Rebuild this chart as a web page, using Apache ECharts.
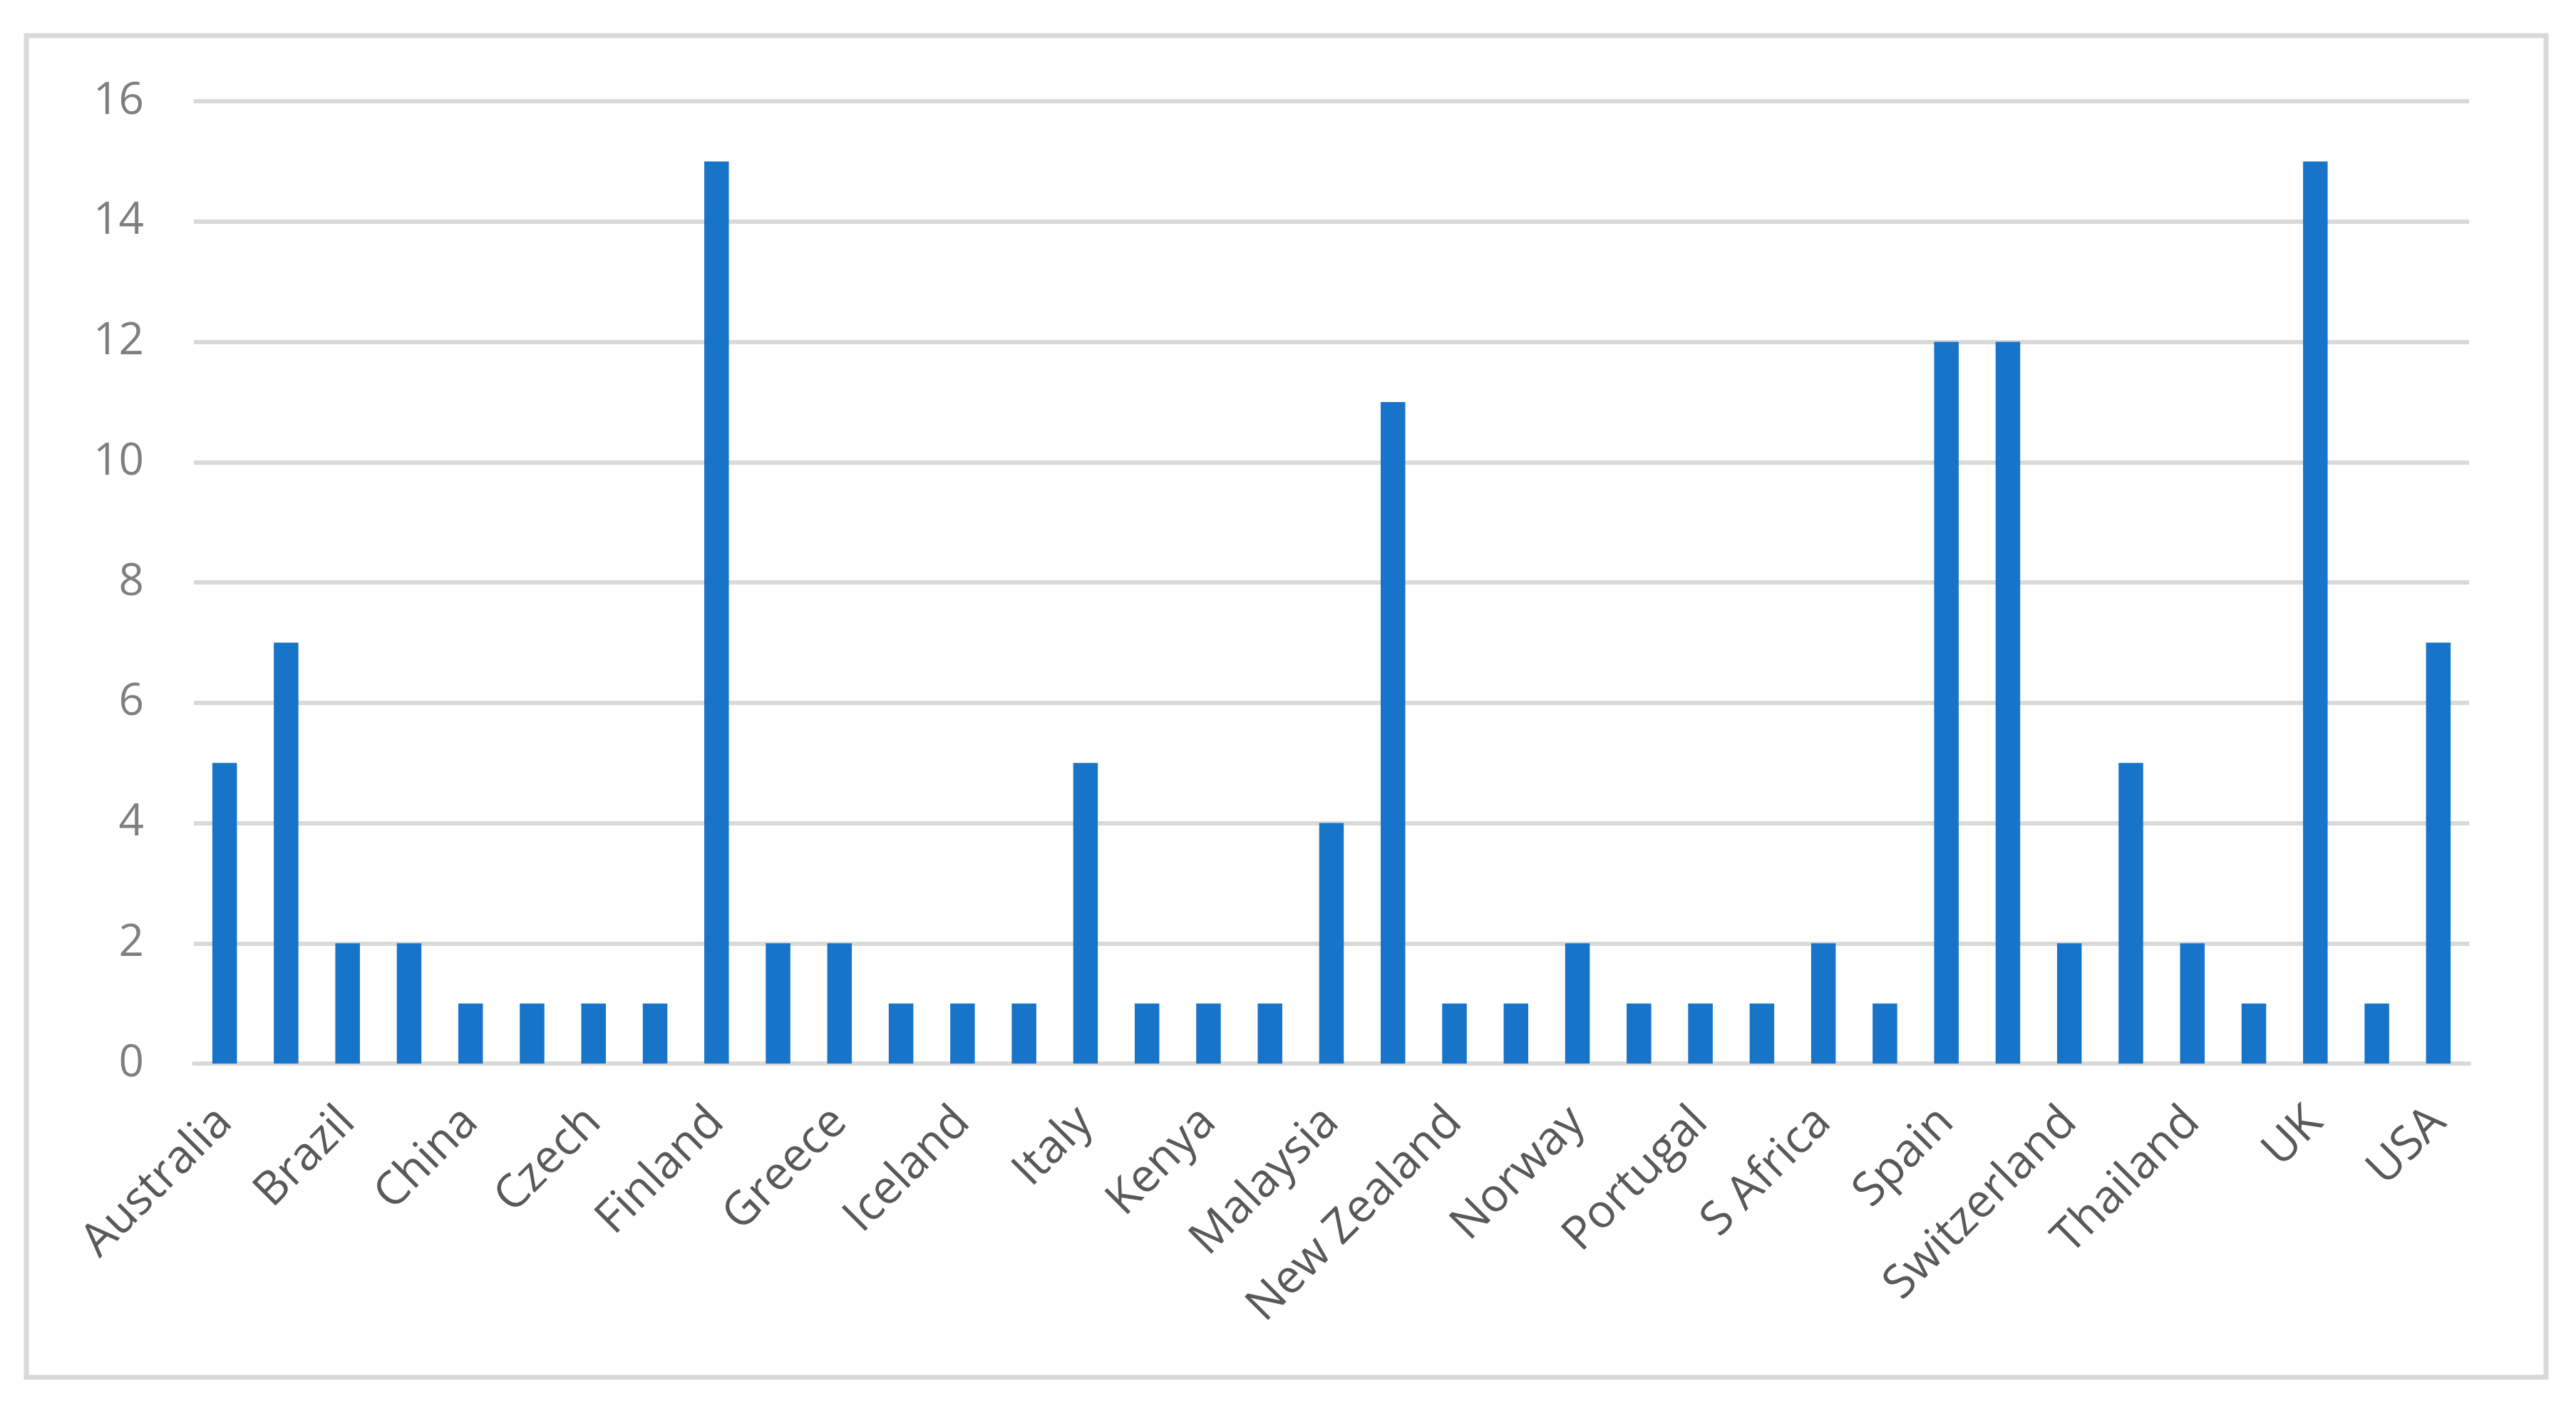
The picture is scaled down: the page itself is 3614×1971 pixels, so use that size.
<!DOCTYPE html>
<html>
<head>
<meta charset="utf-8">
<script src="https://cdn.jsdelivr.net/npm/echarts@6/dist/echarts.min.js"></script>
<style>
html,body{margin:0;padding:0;background:#fff;}
#chart{width:3614px;height:1971px;}
</style>
</head>
<body>
<div id="chart"></div>
<script>
const categories = ["Australia","Austria","Brazil","Canada","China","Croatia","Czech","Denmark","Finland","France","Greece","Hungary","Iceland","India","Italy","Japan","Kenya","Korea","Malaysia","Netherlands","New Zealand","Nigeria","Norway","Poland","Portugal","Russia","S Africa","Singapore","Spain","Sweden","Switzerland","Taiwan","Thailand","Turkey","UK","Uruguay","USA"];
const values = [5,7,2,2,1,1,1,1,15,2,2,1,1,1,5,1,1,1,4,11,1,1,2,1,1,1,2,1,12,12,2,5,2,1,15,1,7];
const yTicks = [0,2,4,6,8,10,12,14,16];

const chart = echarts.init(document.getElementById('chart'), null, {renderer:'canvas'});
chart.setOption({
  animation:false,
  backgroundColor:'#ffffff',
  graphic:[{
    type:'rect',
    shape:{x:37,y:50,width:3535,height:1882},
    style:{fill:'none',stroke:'#d9d9d9',lineWidth:7}
  }],
  grid:{left:272,right:150,top:142,bottom:479,containLabel:false},
  xAxis:{
    type:'category',
    data:categories,
    axisLine:{show:true,lineStyle:{color:'#d9d9d9',width:6}},
    axisTick:{show:false},
    axisLabel:{
      interval:1,
      rotate:45,
      margin:72,
      color:'#595959',
      fontSize:65,
      fontWeight:500,
      fontFamily:'Open Sans'
    }
  },
  yAxis:{
    type:'value',
    min:yTicks[0],
    max:yTicks[yTicks.length-1],
    interval:2,
    axisLine:{show:false},
    axisTick:{show:false},
    splitLine:{lineStyle:{color:'#d9d9d9',width:6}},
    axisLabel:{
      margin:70,
      color:'#7f7f7f',
      fontSize:62,
      fontFamily:'Open Sans'
    }
  },
  series:[{
    type:'bar',
    data:values,
    barCategoryGap:'60%',
    itemStyle:{color:'#1874C9'}
  }]
});
</script>
</body>
</html>
